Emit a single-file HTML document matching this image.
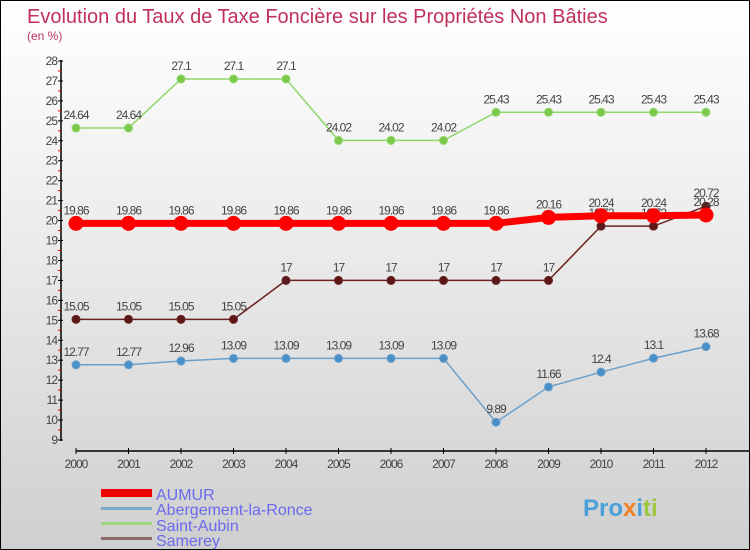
<!DOCTYPE html>
<html><head><meta charset="utf-8"><style>
body{margin:0}
#c{width:748px;height:548px;border:1px solid #000;background:linear-gradient(#fff,#f2f2f2 30%,#cfcfcf);position:relative;overflow:hidden;font-family:"Liberation Sans",sans-serif}
</style></head><body>
<div id="c">
<svg width="748" height="548" id="s">
<text x="26" y="22" font-size="20" fill="#c0305a">Evolution du Taux de Taxe Foncière sur les Propriétés Non Bâties</text>
<text x="26" y="39" font-size="12" fill="#c0305a">(en %)</text>
<g id="ax"></g><g id="ser"></g>
<g>
<rect x="100" y="488" width="51" height="8" fill="#e00"/>
<text x="155" y="499" font-size="16" fill="#6a6af0">AUMUR</text>
<rect x="100" y="506" width="51" height="3" fill="#7aa8c8"/>
<text x="155" y="514" font-size="16" fill="#6a6af0">Abergement-la-Ronce</text>
<rect x="100" y="521" width="51" height="3" fill="#9cd880"/>
<text x="155" y="530" font-size="16" fill="#6a6af0">Saint-Aubin</text>
<rect x="100" y="536" width="51" height="3" fill="#8a6a6a"/>
<text x="155" y="545" font-size="16" fill="#6a6af0">Samerey</text>
</g>
<text x="582" y="515" font-size="24" font-weight="bold" fill="#4aa0d8">Pro<tspan fill="#f08020">x</tspan><tspan fill="#4aa0d8">i</tspan><tspan fill="#9cc840">ti</tspan></text>
</svg></div>
<script>
const years=[2000,2001,2002,2003,2004,2005,2006,2007,2008,2009,2010,2011,2012];
const yTicks=[9,10,11,12,13,14,15,16,17,18,19,20,21,22,23,24,25,26,27,28];
const aumur=[19.86,19.86,19.86,19.86,19.86,19.86,19.86,19.86,19.86,20.16,20.24,20.24,20.28];
const abergement=[12.77,12.77,12.96,13.09,13.09,13.09,13.09,13.09,9.89,11.66,12.4,13.1,13.68];
const saintAubin=[24.64,24.64,27.1,27.1,27.1,24.02,24.02,24.02,25.43,25.43,25.43,25.43,25.43];
const samerey=[15.05,15.05,15.05,15.05,17,17,17,17,17,17,19.72,19.72,20.72];
const NS="http://www.w3.org/2000/svg";
const X=i=>75+i*(705-75)/(years.length-1);
const Y=v=>439-(v-9)*(439-60)/(28-9);
function mk(p,t,a){const e=document.createElementNS(NS,t);for(const k in a)e.setAttribute(k,a[k]);p.appendChild(e);return e;}
const ax=document.getElementById('ax');
let l=mk(ax,'line',{x1:60,y1:59,x2:60,y2:440,stroke:'#000','stroke-width':1.5});


yTicks.forEach(v=>{
 let t=mk(ax,'line',{x1:57,x2:62,y1:Y(v),y2:Y(v),stroke:'#000'});
 
 
 if(v<28){let h=mk(ax,'line',{x1:57,x2:60,y1:Y(v+0.5),y2:Y(v+0.5),stroke:'#e00'});
 
 }
 let tx=mk(ax,'text',{x:56,y:Y(v)+4,'font-size':12,fill:'#444','text-anchor':'end','letter-spacing':'-1'});
 tx.textContent=v;
 
 
});
l=mk(ax,'line',{x1:75,y1:450,x2:748,y2:450,stroke:'#000','stroke-width':1.5});


years.forEach((y,i)=>{
 let t=mk(ax,'line',{x1:X(i),x2:X(i),y1:447,y2:453,stroke:'#000'});
 
 
 let tx=mk(ax,'text',{x:X(i),y:467,'font-size':12,fill:'#444','text-anchor':'middle','letter-spacing':'-1'});
 tx.textContent=y;
 
 
});
const ser=document.getElementById('ser');
function draw(name,d,col,w,r,dot){
 const g=mk(ser,'g',{});
 
 
 let p=mk(g,'polyline',{points:d.map((v,i)=>X(i)+','+Y(v)).join(' '),fill:'none',stroke:col,'stroke-width':w});
 
 
 d.forEach((v,i)=>{
  let c=mk(g,'circle',{cx:X(i),cy:Y(v),r:r,fill:dot,stroke:col,'stroke-width':1});
  
  
  let t=mk(g,'text',{x:X(i),y:Y(v)-9,'font-size':12,fill:'#444','text-anchor':'middle','letter-spacing':'-1'});
  t.textContent=v;
  
  
 });
}
draw('saint-aubin',saintAubin,'#8ed86a',1.5,4,'#7cc84a');
draw('abergement',abergement,'#6aa0cc',1.5,4,'#4a90c8');
draw('samerey',samerey,'#6a2020',1.5,4,'#5a1818');
draw('aumur',aumur,'#f00',7,7,'#f00');
</script>
</body></html>
